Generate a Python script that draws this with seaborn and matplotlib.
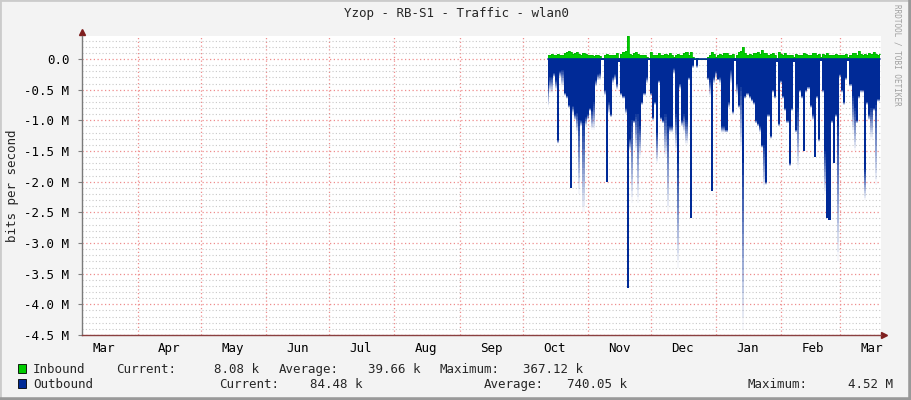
import numpy as np
import pandas as pd
import seaborn as sns
import matplotlib.pyplot as plt
import matplotlib.dates as mdates
from matplotlib.ticker import MultipleLocator, FuncFormatter
from matplotlib.lines import Line2D
from matplotlib.patches import Rectangle

# daily samples, Oct 13 -> Mar 20 (values in Mbit/s)
start_day = '2013-10-13'

inbound = [
    0.06, 0.07, 0.08, 0.06, 0.07, 0.08, 0.06, 0.07, 0.10, 0.11,
    0.13, 0.12, 0.08, 0.10, 0.11, 0.08, 0.07, 0.10, 0.08, 0.07,
    0.06, 0.07, 0.05, 0.06, 0.07, 0.05, 0.01, 0.07, 0.08, 0.06,
    0.07, 0.06, 0.07, 0.09, 0.02, 0.08, 0.11, 0.13, 0.367, 0.08,
    0.07, 0.10, 0.11, 0.08, 0.07, 0.06, 0.07, 0.04, 0.01, 0.12,
    0.07, 0.06, 0.07, 0.09, 0.06, 0.07, 0.08, 0.06, 0.10, 0.07,
    0.04, 0.07, 0.08, 0.06, 0.07, 0.09, 0.11, 0.07, 0.12, 0.04,
    0.00, 0.01, 0.00, 0.00, 0.00, 0.00, 0.03, 0.07, 0.12, 0.08,
    0.03, 0.07, 0.08, 0.07, 0.09, 0.10, 0.07, 0.06, 0.08, 0.01,
    0.07, 0.11, 0.13, 0.19, 0.10, 0.07, 0.08, 0.07, 0.09, 0.10,
    0.12, 0.08, 0.14, 0.10, 0.09, 0.07, 0.08, 0.10, 0.07, 0.01,
    0.11, 0.08, 0.07, 0.09, 0.07, 0.06, 0.07, 0.04, 0.08, 0.07,
    0.06, 0.07, 0.10, 0.08, 0.07, 0.06, 0.09, 0.10, 0.07, 0.08,
    0.03, 0.08, 0.07, 0.09, 0.07, 0.06, 0.07, 0.08, 0.07, 0.06,
    0.07, 0.06, 0.08, 0.03, 0.07, 0.09, 0.10, 0.07, 0.13, 0.08,
    0.07, 0.08, 0.07, 0.10, 0.08, 0.11, 0.08, 0.07, 0.08,
]

# outbound, solid part of each column
outbound = [
    0.42, 0.30, 0.29, 0.23, 0.35, 1.32, 0.20, 0.18, 0.55, 0.60,
    0.75, 2.10, 0.77, 0.90, 0.88, 1.00, 1.00, 1.05, 0.95, 0.90,
    0.80, 0.85, 0.70, 0.35, 0.25, 0.23, 0.02, 0.50, 2.00, 0.70,
    0.90, 0.30, 0.25, 0.40, 0.05, 0.55, 0.60, 0.80, 3.74, 1.30,
    1.00, 1.00, 0.90, 0.90, 1.10, 0.70, 0.55, 0.30, 0.02, 0.55,
    0.95, 0.70, 1.20, 0.35, 0.95, 1.00, 0.90, 1.10, 1.10, 1.10,
    0.15, 0.90, 1.70, 0.40, 1.00, 0.90, 1.00, 0.30, 2.60, 0.10,
    0.02, 0.10, 0.02, 0.01, 0.01, 0.01, 0.30, 0.35, 2.16, 0.30,
    0.20, 0.32, 0.30, 1.10, 1.10, 1.15, 0.70, 0.18, 0.85, 0.03,
    0.40, 0.75, 0.45, 1.70, 0.60, 0.55, 0.60, 0.65, 0.70, 1.00,
    1.05, 1.10, 1.40, 1.40, 2.00, 0.90, 1.25, 0.50, 0.60, 0.05,
    1.05, 0.35, 0.60, 0.80, 1.00, 1.70, 0.80, 0.05, 1.15, 0.80,
    0.50, 0.60, 1.50, 0.50, 0.45, 0.75, 0.90, 1.60, 0.60, 1.30,
    0.03, 0.50, 1.50, 2.60, 2.62, 1.00, 1.70, 0.90, 1.10, 0.25,
    0.50, 0.70, 0.30, 0.03, 0.40, 0.60, 0.80, 1.00, 0.60, 0.50,
    0.50, 1.80, 0.70, 0.90, 0.80, 0.80, 0.75, 0.65, 0.65,
]

# outbound, depth reached by the faded tail of each column
outbound_peak = [
    0.78, 0.55, 0.56, 0.30, 0.50, 1.38, 0.30, 0.45, 0.60, 0.65,
    0.80, 2.10, 0.90, 1.00, 1.20, 2.20, 1.10, 2.50, 1.10, 1.00,
    0.85, 1.15, 1.15, 0.45, 0.35, 0.35, 0.02, 0.60, 2.00, 0.90,
    0.95, 0.40, 0.35, 0.50, 0.05, 0.60, 0.65, 0.90, 3.74, 1.50,
    2.35, 1.05, 1.50, 2.35, 1.60, 0.75, 0.60, 0.40, 0.02, 0.60,
    1.00, 0.75, 1.70, 0.40, 1.00, 1.05, 1.60, 2.50, 1.20, 1.20,
    0.25, 1.50, 3.40, 0.50, 1.10, 1.20, 1.40, 0.35, 2.60, 0.15,
    0.02, 0.15, 0.02, 0.01, 0.01, 0.01, 0.35, 0.60, 2.16, 0.40,
    0.30, 0.35, 0.40, 1.20, 1.20, 1.20, 0.80, 0.40, 0.90, 0.03,
    0.60, 0.80, 1.50, 4.40, 0.65, 0.60, 0.65, 0.70, 0.75, 1.05,
    1.10, 1.20, 1.45, 2.10, 2.05, 0.95, 1.30, 0.55, 0.65, 0.05,
    1.10, 0.40, 0.65, 0.85, 1.05, 1.75, 0.85, 0.05, 1.20, 1.80,
    0.55, 0.65, 1.50, 0.55, 0.50, 0.80, 1.00, 1.60, 0.65, 1.35,
    0.03, 0.55, 2.20, 2.60, 2.62, 1.05, 1.70, 0.95, 3.30, 0.30,
    0.55, 0.75, 0.35, 0.03, 0.45, 1.20, 1.50, 1.05, 0.65, 0.55,
    0.55, 2.30, 0.75, 1.00, 1.30, 0.85, 2.05, 0.70, 0.70,
]

month_names = ['Mar', 'Apr', 'May', 'Jun', 'Jul', 'Aug', 'Sep', 'Oct',
               'Nov', 'Dec', 'Jan', 'Feb', 'Mar']

legend_rows = [
    ('Inbound', '#00CC00', [('Current:', '8.08 k'), ('Average:', '39.66 k'), ('Maximum:', '367.12 k')]),
    ('Outbound', '#002A97', [('Current:', '84.48 k'), ('Average:', '740.05 k'), ('Maximum:', '4.52 M')]),
]

GREEN = '#00CC00'
BLUE = '#002A97'
MONO = ['DejaVu Sans Mono']
FS = 9

df = pd.DataFrame({
    'date': pd.date_range(start_day, periods=len(inbound), freq='D'),
    'inbound': np.array(inbound) * 1e6,
    'outbound': -np.array(outbound) * 1e6,
    'peak': -np.array(outbound_peak) * 1e6,
})

sns.set_style("white")
plt.rcParams['font.family'] = MONO
plt.rcParams['font.size'] = FS

W, H = 911, 400
fig = plt.figure(figsize=(W / 100, H / 100), dpi=100, facecolor='#F3F3F3')
ax = fig.add_axes([82 / W, 65 / H, 799 / W, 299 / H])
ax.set_facecolor('white')

# grid
ax.yaxis.set_major_locator(MultipleLocator(0.5e6))
ax.yaxis.set_minor_locator(MultipleLocator(0.1e6))
ax.xaxis.set_major_locator(mdates.MonthLocator())
ax.xaxis.set_minor_locator(mdates.MonthLocator(bymonthday=16))
ax.grid(which='minor', axis='y', color='#C8C8C8', lw=0.8, ls=(0, (1, 2)))
ax.grid(which='major', axis='y', color='#EE8C8C', lw=0.9, ls=(0, (1, 2)))
ax.grid(which='major', axis='x', color='#EE8C8C', lw=0.9, ls=(0, (1, 2)))
ax.set_axisbelow(True)

# outbound: solid part + faded tail
ax.fill_between(df['date'], 0, df['outbound'], step='mid', color=BLUE, lw=0)
n = 14
for k in range(n):
    lo = df['outbound'] + (df['peak'] - df['outbound']) * k / n
    hi = df['outbound'] + (df['peak'] - df['outbound']) * (k + 1) / n
    ax.fill_between(df['date'], lo, hi, step='mid', color=BLUE,
                    alpha=0.95 * (1 - (k + 0.5) / n), lw=0)

# inbound
ax.fill_between(df['date'], 0, df['inbound'], step='mid', color=GREEN, lw=0)
sns.lineplot(data=df, x='date', y='inbound', ax=ax, color='#00B400', lw=0.6,
             drawstyle='steps-mid')
sns.lineplot(x=df['date'], y=df['inbound'] * 0, ax=ax, color=BLUE, lw=1.2)

ax.set_xlim(pd.Timestamp('2013-03-05 10:00'), pd.Timestamp('2014-03-20 12:00'))
ax.set_ylim(-4.5e6, 0.375e6)

ax.xaxis.set_major_formatter(plt.NullFormatter())
ax.xaxis.set_minor_formatter(FuncFormatter(
    lambda v, p: month_names[p] if p is not None and p < len(month_names) else mdates.num2date(v).strftime('%b')))
ax.yaxis.set_major_formatter(FuncFormatter(
    lambda v, p: '0.0' if abs(v) < 1 else f'{v / 1e6:.1f} M'))

ax.tick_params(axis='x', which='both', length=0, pad=5, labelsize=FS, colors='black')
ax.tick_params(axis='y', which='major', length=3, width=0.8, color='#808080',
               pad=6, labelsize=FS, labelcolor='black', left=True)
ax.tick_params(axis='y', which='minor', length=0)

for s in ['top', 'right']:
    ax.spines[s].set_visible(False)
ax.spines['left'].set_color('#7A7A7A')
ax.spines['left'].set_linewidth(1)
ax.spines['bottom'].set_color('#8A4040')
ax.spines['bottom'].set_linewidth(1)

# axis arrows
ax.plot([0], [1.012], marker='^', ms=4, color='#7F1F1F', transform=ax.transAxes, clip_on=False)
ax.plot([1.004], [0], marker='>', ms=4, color='#7F1F1F', transform=ax.transAxes, clip_on=False)

ax.set_xlabel('')
ax.set_ylabel('bits per second', fontsize=FS, labelpad=4)

fig.text(456 / W, 1 - 14 / H, 'Yzop - RB-S1 - Traffic - wlan0', ha='center', va='center',
         fontsize=FS, family=MONO)
fig.text(897 / W, 1 - 4 / H, 'RRDTOOL / TOBI OETIKER', rotation=270, ha='center', va='top',
         fontsize=5.5, color='#A0A0A0', family=MONO)

# legend block
row_base = [373, 388]
label_x = [[116, 279, 440], [219, 484, 748]]
value_end = [[259, 420, 583], [363, 627, 893]]
for r, (name, col, stats) in enumerate(legend_rows):
    y = 1 - row_base[r] / H
    fig.patches.append(Rectangle((18 / W, y), 8 / W, 9 / H, transform=fig.transFigure,
                                 facecolor=col, edgecolor='black', lw=0.6))
    fig.text(33 / W, y, name, ha='left', va='baseline', fontsize=FS, family=MONO)
    for i, (lab, val) in enumerate(stats):
        fig.text(label_x[r][i] / W, y, lab, ha='left', va='baseline', fontsize=FS, family=MONO)
        fig.text(value_end[r][i] / W, y, val, ha='right', va='baseline', fontsize=FS, family=MONO)

# 3d frame shades
fig.add_artist(Line2D([0, 0, 1], [0, 1, 1], transform=fig.transFigure, color='#CBCBCB', lw=2))
fig.add_artist(Line2D([0, 1, 1], [0, 0, 1], transform=fig.transFigure, color='#999999', lw=4))

fig.savefig('out.png', dpi=100, facecolor=fig.get_facecolor())
